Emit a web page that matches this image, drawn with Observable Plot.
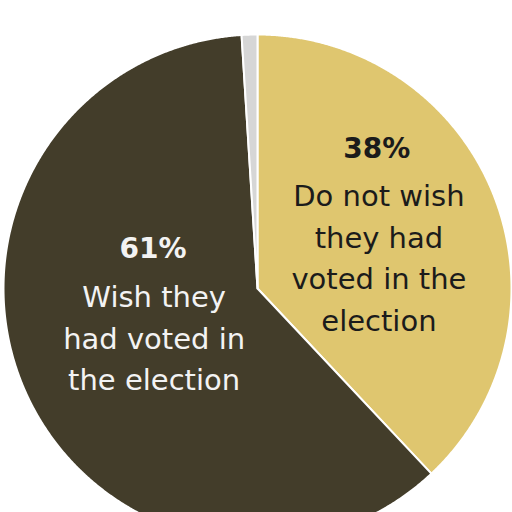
<!DOCTYPE html>
<html>
<head>
<meta charset="utf-8">
<script src="https://cdn.jsdelivr.net/npm/d3@7"></script>
<script src="https://cdn.jsdelivr.net/npm/@observablehq/plot@0.6"></script>
<style>
  html, body { margin: 0; padding: 0; background: #fff; overflow: hidden; }
  #chart svg { display: block; }
</style>
</head>
<body>
<div id="chart"></div>
<script>
// Data
const categories = ["Do not wish they had voted in the election", "Wish they had voted in the election", "No answer"];
const values = [38, 61, 1];
const pctLabels = ["38%", "61%", ""];
const descLabels = ["Do not wish\nthey had\nvoted in the\nelection", "Wish they\nhad voted in\nthe election", ""];
const colors = ["#dfc66f", "#433d2a", "#d6d6d6"];

// Pie geometry via d3.pie (angles from data)
const pie = d3.pie().sort(null).value(d => d.value);
const arcs = pie(categories.map((c, i) => ({cat: c, value: values[i]})));

const pts = [];
for (const a of arcs) {
  const cat = a.data.cat;
  pts.push({cat, x: 0, y: 0});
  const n = Math.max(4, Math.ceil((a.endAngle - a.startAngle) / 0.005));
  for (let k = 0; k <= n; k++) {
    const t = a.startAngle + (a.endAngle - a.startAngle) * k / n;
    pts.push({cat, x: Math.sin(t), y: Math.cos(t)});
  }
  pts.push({cat, x: 0, y: 0});
}

// label anchors (data space, unit radius)
const labelPos = [
  {num: [0.47, 0.551], body: [0.478, 0.131], fill: "#1b1b1b"},
  {num: [-0.411, 0.157], body: [-0.407, -0.184], fill: "#f3f3f3"}
];
const numData = labelPos.map((p, i) => ({x: p.num[0], y: p.num[1], text: pctLabels[i], fill: p.fill}));
const bodyData = labelPos.map((p, i) => ({x: p.body[0], y: p.body[1], text: descLabels[i], fill: p.fill}));

const R = 254, cx = 257, cy = 288, W = 512, H = 512;

const chart = Plot.plot({
  width: W,
  height: H,
  margin: 0,
  x: {domain: [-cx / R, (W - cx) / R], axis: null},
  y: {domain: [-(H - cy) / R, cy / R], axis: null},
  color: {domain: categories, range: colors},
  style: {background: "#fff"},
  marks: [
    Plot.line(pts, {x: "x", y: "y", z: "cat", fill: "cat", stroke: "#fff", strokeWidth: 2, strokeLinejoin: "round", curve: "linear"}),
    Plot.text(numData, {x: "x", y: "y", text: "text", fill: d => d.fill, fontSize: 28, fontWeight: "bold", fontFamily: "DejaVu Sans", textAnchor: "middle"}),
    Plot.text(bodyData, {x: "x", y: "y", text: "text", fill: d => d.fill, fontSize: 29, fontFamily: "DejaVu Sans", lineHeight: 1.43, textAnchor: "middle"})
  ]
});
document.getElementById("chart").appendChild(chart);
</script>
</body>
</html>
